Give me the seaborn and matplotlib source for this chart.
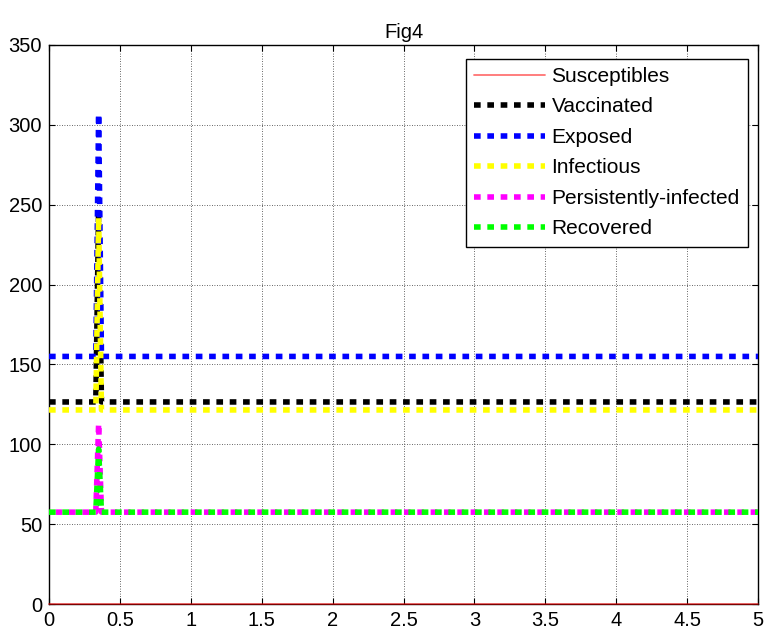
import matplotlib
matplotlib.use("Agg")
import matplotlib.pyplot as plt
import seaborn as sns
import numpy as np

# ---- data ----
t = [0.0, 0.33, 0.35, 0.37, 5.0]
susceptibles = [0, 0, 0, 0, 0]
vaccinated = [126.5, 126.5, 247, 126.5, 126.5]
exposed = [155, 155, 307, 155, 155]
infectious = [121.5, 121.5, 242, 121.5, 121.5]
persistently_infected = [57.5, 57.5, 113, 57.5, 57.5]
recovered = [57.5, 57.5, 97, 57.5, 57.5]

series_names = ["Susceptibles", "Vaccinated", "Exposed", "Infectious",
                "Persistently-infected", "Recovered"]
series_values = [susceptibles, vaccinated, exposed, infectious,
                 persistently_infected, recovered]
series_colors = ["#ff0000", "#000000", "#0000ff", "#ffff00", "#ff00ff", "#00ff00"]

x_ticks = [0, 0.5, 1, 1.5, 2, 2.5, 3, 3.5, 4, 4.5, 5]
x_tick_labels = ["0", "0.5", "1", "1.5", "2", "2.5", "3", "3.5", "4", "4.5", "5"]
y_ticks = [0, 50, 100, 150, 200, 250, 300, 350]
y_tick_labels = ["0", "50", "100", "150", "200", "250", "300", "350"]
title = "Fig4"

# ---- style ----
sns.set_theme(style="white")
plt.rcParams["font.family"] = ["Liberation Sans", "DejaVu Sans"]
plt.rcParams["text.color"] = "black"
plt.rcParams["axes.labelcolor"] = "black"
FS = 14.5
DOTS = (1.2, 1.2)

fig = plt.figure(figsize=(7.64, 6.31), dpi=100)
ax = fig.add_axes([49 / 764, 1 - 604 / 631, (758 - 49) / 764, (604 - 45) / 631])

for i, (name, vals, col) in enumerate(zip(series_names, series_values, series_colors)):
    if name == "Susceptibles":
        sns.lineplot(x=t, y=vals, ax=ax, color=col, linewidth=1.3, alpha=0.55,
                     label=name, sort=False, estimator=None, zorder=5, clip_on=False)
    else:
        offset = 1.2 if name == "Persistently-infected" else 0
        sns.lineplot(x=t, y=vals, ax=ax, color=col, linewidth=4.0,
                     linestyle=(offset, DOTS), label=name,
                     sort=False, estimator=None, zorder=3 + i * 0.1)

ax.set_xlim(0, 5)
ax.set_ylim(0, 350)
ax.set_xticks(x_ticks)
ax.set_xticklabels(x_tick_labels)
ax.set_yticks(y_ticks)
ax.set_yticklabels(y_tick_labels)
ax.set_xlabel("")
ax.set_ylabel("")
ax.set_title(title, fontsize=FS, pad=5, color="black")

ax.tick_params(axis="both", which="major", direction="in", length=4, width=0.8,
               labelsize=FS, colors="black", top=True, right=True, pad=5,
               bottom=True, left=True)
ax.grid(True, color="#333333", linestyle=(0, (1, 2)), linewidth=0.6)
for s in ax.spines.values():
    s.set_color("black")
    s.set_linewidth(1.0)
    s.set_visible(True)

leg = ax.legend(loc="upper right", bbox_to_anchor=(0.986, 0.9755), fontsize=FS + 0.5,
                frameon=True, fancybox=False, framealpha=1, edgecolor="black",
                handlelength=3.4, handletextpad=0.3, labelspacing=0.55,
                borderpad=0.4, borderaxespad=0)
leg.get_frame().set_linewidth(1.0)
leg.set_zorder(10)
for txt in leg.get_texts():
    txt.set_color("black")
for h in leg.get_lines():
    if h.get_linewidth() > 2:
        h.set_linestyle((0, DOTS))

fig.savefig("out.png", dpi=100, facecolor="white")
